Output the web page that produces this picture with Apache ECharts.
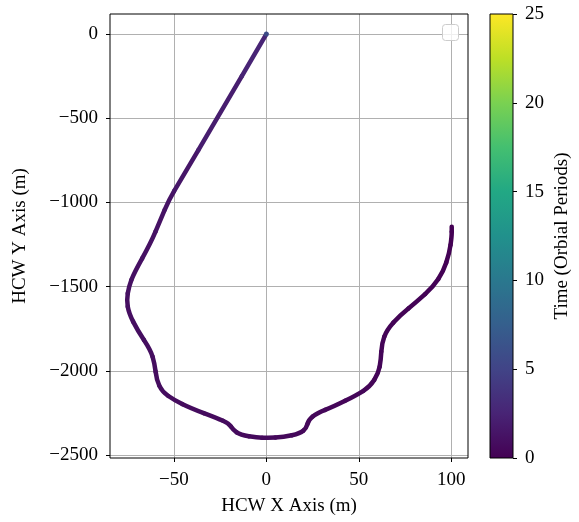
<!DOCTYPE html>
<html>
<head>
<meta charset="utf-8">
<script src="https://cdn.jsdelivr.net/npm/echarts@6/dist/echarts.min.js"></script>
<style>
html,body{margin:0;padding:0;background:#fff;}
#chart{width:579px;height:522px;}
</style>
</head>
<body>
<div id="chart"></div>
<script>
// Trajectory (HCW frame), in time order
var trajX = [100.2, 100.2, 98.9, 95.6, 90.3, 81.3, 72.3, 65.1, 62.4, 61.9, 60.6, 56.0, 48.9, 36.3, 27.3, 22.8, 21.6, 18.3, 9.3, 0.4, -5.0, -14.0, -18.0, -20.3, -26.6, -41.0, -50.0, -56.3, -59.3, -60.4, -62.6, -69.7, -74.3, -75.5, -74.3, -71.6, -62.6, -57.2, -52.7, -47.0, -26.5, 0.0];
var trajY = [-1144, -1204, -1302, -1411, -1500, -1590, -1669, -1758, -1837, -1936, -2015, -2094, -2144, -2213, -2252, -2292, -2341, -2371, -2395, -2397, -2397, -2381, -2351, -2312, -2282, -2222, -2173, -2124, -2055, -1955, -1876, -1758, -1658, -1580, -1500, -1421, -1243, -1104, -986, -880, -500, 0];
var trajT = [0.0, 0.03, 0.06, 0.09, 0.12, 0.15, 0.18, 0.21, 0.24, 0.27, 0.30, 0.33, 0.36, 0.39, 0.42, 0.45, 0.48, 0.51, 0.54, 0.57, 0.60, 0.63, 0.66, 0.69, 0.72, 0.75, 0.78, 0.81, 0.84, 0.87, 0.90, 0.93, 0.96, 1.00, 1.05, 1.10, 1.15, 1.20, 1.30, 1.50, 2.00, 2.50];
// dwell at the origin
var dwellX = [0];
var dwellY = [0];
var dwellT = [6.5];

var xTicks = [-50, 0, 50, 100];
var yTicks = [-2500, -2000, -1500, -1000, -500, 0];
var timeRange = [0, 25];
var xRange = [-84.5, 109];
var yRange = [-2518, 119];

var viridis = ['#440154','#482475','#414487','#355f8d','#2a788e','#21918c','#22a884','#44bf70','#7ad151','#bddf26','#fde725'];

var FONT = '"Liberation Serif", "Times New Roman", serif';
function minus(v){ return String(v).replace('-', '\u2212'); }

var trajData = trajX.map(function(x, i){ return [x, trajY[i], trajT[i]]; });
var dwellData = dwellX.map(function(x, i){ return [x, dwellY[i], dwellT[i]]; });

var chart = echarts.init(document.getElementById('chart'), null, {renderer:'canvas'});
var n = trajData.length;

var option = {
  animation: false,
  backgroundColor: '#ffffff',
  grid: [
    {left:110, top:14, width:358, height:444, show:true, borderColor:'#000', borderWidth:1, backgroundColor:'transparent', z:10},
    {left:490, top:14, width:23, height:444, show:true, borderColor:'#000', borderWidth:1, backgroundColor:'transparent', z:10}
  ],
  xAxis: [
    {gridIndex:0, type:'value', min:xRange[0], max:xRange[1], position:'bottom',
     axisLine:{show:false, onZero:false},
     axisTick:{show:true, customValues:xTicks, length:4, inside:false, lineStyle:{color:'#000', width:1}},
     axisLabel:{customValues:xTicks, margin:13, color:'#000', fontFamily:FONT, fontSize:19, formatter:minus},
     splitLine:{show:true, lineStyle:{color:'#b0b0b0', width:1}},
     name:'HCW X Axis (m)', nameLocation:'middle', nameGap:39,
     nameTextStyle:{color:'#000', fontFamily:FONT, fontSize:19}},
    {gridIndex:1, type:'category', data:['c'], show:false, boundaryGap:false}
  ],
  yAxis: [
    {gridIndex:0, type:'value', min:yRange[0], max:yRange[1], position:'left',
     axisLine:{show:false, onZero:false},
     axisTick:{show:true, customValues:yTicks, length:4, inside:false, lineStyle:{color:'#000', width:1}},
     axisLabel:{customValues:yTicks, margin:12, color:'#000', fontFamily:FONT, fontSize:19, formatter:minus},
     splitLine:{show:true, lineStyle:{color:'#b0b0b0', width:1}},
     name:'HCW Y Axis (m)', nameLocation:'middle', nameGap:80, nameRotate:90,
     nameTextStyle:{color:'#000', fontFamily:FONT, fontSize:19}},
    {gridIndex:1, type:'value', position:'right', min:timeRange[0], max:timeRange[1], interval:5,
     axisLine:{show:false, onZero:false},
     axisTick:{show:true, length:4, inside:false, lineStyle:{color:'#000', width:1}},
     axisLabel:{margin:12, color:'#000', fontFamily:FONT, fontSize:19},
     splitLine:{show:false},
     name:'Time (Orbial Periods)', nameLocation:'middle', nameGap:40, nameRotate:90,
     nameTextStyle:{color:'#000', fontFamily:FONT, fontSize:19}}
  ],
  visualMap: [{
    type:'continuous', show:false, dimension:2, min:timeRange[0], max:timeRange[1],
    seriesIndex:[0,1], inRange:{color:viridis}
  }],
  series: [
    {
      type:'custom', xAxisIndex:0, yAxisIndex:0, data:trajData,
      encode:{x:0, y:1}, clip:true, z:3,
      renderItem:function(params, api){
        var i = params.dataIndex;
        var p = api.coord([trajX[i], trajY[i]]);
        var pr = i > 0 ? api.coord([trajX[i-1], trajY[i-1]]) : p;
        var nx = i < n-1 ? api.coord([trajX[i+1], trajY[i+1]]) : p;
        var a = [(pr[0]+p[0])/2, (pr[1]+p[1])/2];
        var b = [(nx[0]+p[0])/2, (nx[1]+p[1])/2];
        return {
          type:'bezierCurve',
          shape:{x1:a[0], y1:a[1], x2:b[0], y2:b[1], cpx1:p[0], cpy1:p[1]},
          style:{stroke:api.visual('color'), lineWidth:4.5, fill:null, lineCap:'round'}
        };
      }
    },
    {
      type:'scatter', xAxisIndex:0, yAxisIndex:0, data:dwellData,
      encode:{x:0, y:1}, symbol:'circle', symbolSize:5, z:4
    },
    {
      type:'bar', xAxisIndex:1, yAxisIndex:1, data:[timeRange[1]], barWidth:'100%', z:2,
      itemStyle:{color:new echarts.graphic.LinearGradient(0,1,0,0, viridis.map(function(c,i){return {offset:i/(viridis.length-1), color:c};}))}
    }
  ],
  graphic: [
    {type:'rect', left:442, top:24, shape:{width:16, height:16, r:3}, z:20,
     style:{fill:'rgba(255,255,255,0.8)', stroke:'#cccccc', lineWidth:1}}
  ]
};
chart.setOption(option);
</script>
</body>
</html>
